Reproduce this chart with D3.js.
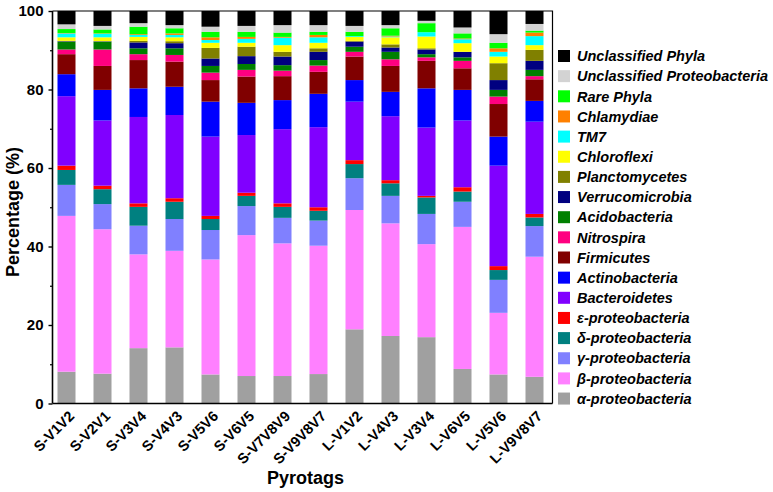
<!DOCTYPE html>
<html><head><meta charset="utf-8">
<script src="https://cdn.jsdelivr.net/npm/d3@7"></script>
<style>
html,body{margin:0;padding:0;background:#fff;}
text{font-family:Arial,"Liberation Sans",sans-serif;font-weight:bold;fill:#000;}
</style></head>
<body>
<svg id="chart" width="773" height="492"></svg>
<script>
const categories = ["S-V1V2","S-V2V1","S-V3V4","S-V4V3","S-V5V6","S-V6V5","S-V7V8V9","S-V9V8V7","L-V1V2","L-V4V3","L-V3V4","L-V6V5","L-V5V6","L-V9V8V7"];

const alphaProteo   = [8.1, 7.6, 14.1, 14.3, 7.4, 7.0, 7.0, 7.5, 18.9, 17.2, 16.9, 8.8, 7.4, 6.8];
const betaProteo    = [39.7, 36.8, 23.9, 24.6, 29.3, 35.9, 33.8, 32.7, 30.4, 28.7, 23.7, 36.2, 15.7, 30.6];
const gammaProteo   = [7.9, 6.4, 7.3, 8.1, 7.5, 7.4, 6.5, 6.4, 8.1, 7.0, 7.7, 6.4, 8.4, 7.8];
const deltaProteo   = [3.8, 3.8, 4.8, 4.4, 2.8, 2.6, 2.8, 2.5, 3.6, 3.2, 4.2, 2.6, 2.5, 2.2];
const epsilonProteo = [1.1, 0.9, 0.9, 0.9, 0.8, 0.8, 0.9, 0.9, 1.0, 0.8, 0.4, 1.1, 1.0, 0.9];
const bacteroidetes = [17.7, 16.6, 22.0, 21.2, 20.2, 14.7, 18.9, 20.4, 14.9, 16.3, 17.4, 17.0, 25.6, 23.5];
const actinobacteria= [5.6, 7.8, 7.3, 7.2, 8.9, 8.2, 7.4, 8.5, 5.5, 6.2, 10.0, 7.8, 7.4, 5.3];
const firmicutes    = [5.1, 6.1, 7.2, 6.4, 5.5, 6.7, 6.1, 5.6, 6.0, 6.6, 7.0, 5.5, 8.3, 5.5];
const nitrospira    = [1.2, 4.2, 1.5, 1.7, 1.9, 1.7, 1.4, 1.6, 1.2, 1.7, 0.9, 1.9, 1.9, 0.8];
const acidobacteria = [2.0, 2.0, 1.5, 1.7, 1.7, 1.5, 1.4, 1.4, 1.3, 1.9, 0.8, 0.9, 1.7, 1.6];
const verrucomicrobia=[0.1, 0.1, 1.5, 1.3, 1.9, 2.0, 2.2, 2.1, 1.3, 1.1, 1.2, 1.4, 2.5, 2.3];
const planctomycetes= [0.1, 0.0, 0.4, 0.5, 2.7, 2.4, 1.2, 0.9, 0.2, 0.8, 0.3, 0.0, 4.3, 2.8];
const chloroflexi   = [0.9, 1.0, 1.0, 1.0, 1.3, 1.0, 1.7, 1.4, 1.0, 1.8, 3.0, 2.2, 1.7, 1.2];
const tm7           = [1.0, 0.9, 0.5, 0.6, 0.7, 1.0, 1.9, 1.4, 0.2, 0.2, 1.1, 1.0, 1.2, 2.3];
const chlamydiae    = [0.1, 0.1, 0.2, 0.4, 0.7, 0.5, 0.2, 0.6, 0.0, 0.2, 0.0, 0.2, 0.9, 0.9];
const rarePhyla     = [1.0, 1.0, 1.9, 1.3, 1.4, 1.3, 1.1, 0.8, 1.1, 1.9, 2.3, 1.3, 1.4, 0.5];
const unclProteo    = [1.2, 0.9, 0.9, 0.8, 1.3, 1.5, 1.9, 1.7, 1.5, 0.8, 0.6, 1.5, 2.2, 1.7];
const unclPhyla     = [3.4, 3.8, 3.1, 3.6, 4.0, 3.8, 3.6, 3.6, 3.8, 3.6, 2.5, 4.2, 5.9, 3.3];

// stacking order, bottom to top
const seriesNames = ["α-proteobacteria","β-proteobacteria","γ-proteobacteria","δ-proteobacteria","ε-proteobacteria","Bacteroidetes","Actinobacteria","Firmicutes","Nitrospira","Acidobacteria","Verrucomicrobia","Planctomycetes","Chloroflexi","TM7","Chlamydiae","Rare Phyla","Unclassified Proteobacteria","Unclassified Phyla"];
const seriesValues = [alphaProteo,betaProteo,gammaProteo,deltaProteo,epsilonProteo,bacteroidetes,actinobacteria,firmicutes,nitrospira,acidobacteria,verrucomicrobia,planctomycetes,chloroflexi,tm7,chlamydiae,rarePhyla,unclProteo,unclPhyla];
const seriesColors = ["#a0a0a0","#ff80ff","#8080ff","#008080","#ff0000","#8000ff","#0000ff","#800000","#ff0080","#008000","#000080","#808000","#ffff00","#00ffff","#ff8000","#00ff00","#d3d3d3","#000000"];
const yTicks = [0,20,40,60,80,100];
const yMinorTicks = [10,30,50,70,90];

const table = categories.map((c,i)=>{
  const row = {category:c};
  seriesNames.forEach((s,j)=>row[s]=seriesValues[j][i]);
  return row;
});
const stacked = d3.stack().keys(seriesNames)(table);

const svg = d3.select("#chart");
const AX = 52.5, R = 552.5, T = 11, B = 403.5;
const x = d3.scaleBand().domain(categories).range([48.5,R]).paddingInner(0.5).paddingOuter(0.25);
const y = d3.scaleLinear().domain([0,100]).range([B,T]);
const color = d3.scaleOrdinal().domain(seriesNames).range(seriesColors);

svg.append("g").selectAll("g").data(stacked).join("g")
  .attr("fill",d=>color(d.key))
  .selectAll("rect").data(d=>d).join("rect")
  .attr("x",d=>x(d.data.category))
  .attr("width",x.bandwidth())
  .attr("y",d=>y(d[1]))
  .attr("height",d=>Math.max(0,y(d[0])-y(d[1])));

// frame (top and right)
svg.append("path").attr("d",`M${AX},${T}H${R}V${B}`).attr("fill","none").attr("stroke","#000").attr("stroke-width",1.2);

// y axis
const yAxis = svg.append("g").attr("transform",`translate(${AX},0)`)
  .call(d3.axisLeft(y).tickValues(yTicks).tickSize(4).tickPadding(5).tickFormat(d3.format("d")));
yAxis.select(".domain").attr("stroke-width",1.6).attr("d",`M0,${T}V${B}`);
yAxis.selectAll(".tick line").attr("stroke-width",1.4);
yAxis.selectAll("text").style("font-size","15px").style("font-weight","bold").attr("font-family",null);
svg.append("g").attr("transform",`translate(${AX},0)`)
  .call(d3.axisLeft(y).tickValues(yMinorTicks).tickSize(2.5).tickFormat(""))
  .call(g=>g.select(".domain").remove())
  .selectAll(".tick line").attr("stroke-width",1.2);

// x axis
const xAxis = svg.append("g").attr("transform",`translate(0,${B})`)
  .call(d3.axisBottom(x).tickSize(0).tickFormat(""));
xAxis.select(".domain").attr("stroke-width",1.6).attr("d",`M${AX},0H${R}`);

svg.append("g").selectAll("text").data(categories).join("text")
  .attr("transform",d=>`translate(${x(d)+x.bandwidth()/2+5},${B+10}) rotate(-45)`)
  .attr("text-anchor","end")
  .attr("dy","0.35em")
  .style("font-size","14.5px")
  .text(d=>d);

// axis titles
svg.append("text").attr("x",(AX+R)/2+3).attr("y",484)
  .attr("text-anchor","middle").style("font-size","18px").text("Pyrotags");
svg.append("text").attr("transform",`translate(19,212) rotate(-90)`)
  .attr("text-anchor","middle").style("font-size","18px").text("Percentage (%)");

// legend
const legendNames = seriesNames.slice().reverse();
const lg = svg.append("g").selectAll("g").data(legendNames).join("g")
  .attr("transform",(d,i)=>`translate(558,${56+i*20.15})`);
lg.append("rect").attr("x",0).attr("y",-6).attr("width",12).attr("height",12).attr("fill",d=>color(d));
lg.append("text").attr("x",19).attr("dy","0.36em")
  .style("font-size","14.5px").style("font-style","italic").text(d=>d);
</script>
</body></html>
